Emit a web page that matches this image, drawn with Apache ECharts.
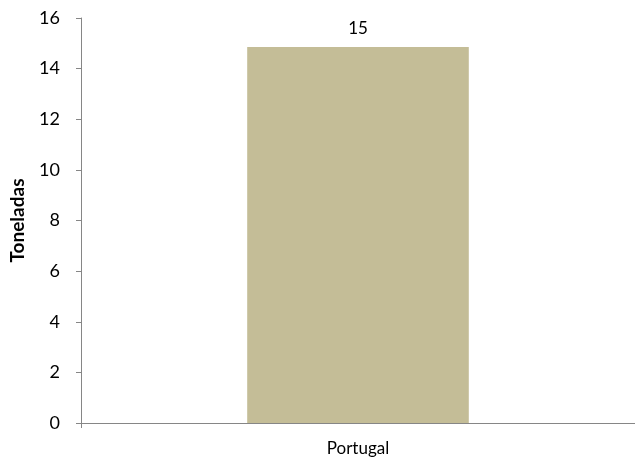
<!DOCTYPE html>
<html><head><meta charset="utf-8">
<script src="https://cdn.jsdelivr.net/npm/echarts@6/dist/echarts.min.js"></script>
<style>html,body{margin:0;padding:0;background:#fff}#c{width:635px;height:464px}</style>
</head><body><div id="c"></div>
<script>
const categories = ["Portugal"];
const values = [14.85];
const valueLabels = ["15"];
const yTicks = [0, 2, 4, 6, 8, 10, 12, 14, 16];

const chart = echarts.init(document.getElementById('c'), null, {renderer: 'canvas'});
const axisColor = '#868686';
const font = 'Lato, "Open Sans", sans-serif';
chart.setOption({
  animation: false,
  grid: {left: 80, right: -2, top: 18, bottom: 41, containLabel: false},
  xAxis: {
    type: 'category', data: categories,
    axisLine: {lineStyle: {color: axisColor, width: 1}},
    axisTick: {show: true, alignWithLabel: false, length: 5, lineStyle: {color: axisColor}},
    axisLabel: {color: '#000', fontFamily: font, fontSize: 17, margin: 17}
  },
  yAxis: {
    type: 'value', min: yTicks[0], max: yTicks[yTicks.length - 1], interval: 2,
    name: 'Toneladas', nameLocation: 'middle', nameGap: 54,
    nameTextStyle: {color: '#000', fontFamily: font, fontSize: 19, fontWeight: 'bold'},
    axisLine: {show: true, lineStyle: {color: axisColor, width: 1}},
    axisTick: {show: true, length: 5, lineStyle: {color: axisColor}},
    splitLine: {show: false},
    axisLabel: {color: '#000', fontFamily: font, fontSize: 18, margin: 21}
  },
  series: [{
    type: 'bar', data: values, barCategoryGap: '60%',
    itemStyle: {color: '#C4BD97'},
    label: {show: true, position: 'top', distance: 10, color: '#000', fontFamily: font, fontSize: 17,
      formatter: p => valueLabels[p.dataIndex]}
  }]
});
</script></body></html>
